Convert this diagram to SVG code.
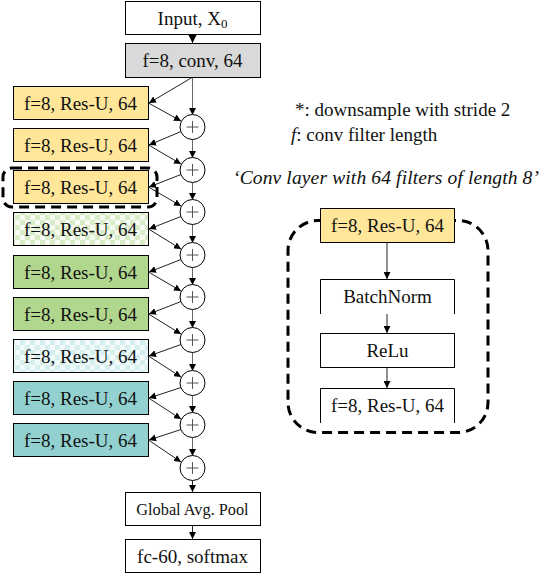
<svg xmlns="http://www.w3.org/2000/svg" width="544" height="574" viewBox="0 0 544 574">
<style>
text{font-family:"Liberation Serif","Times New Roman",serif;fill:#111;}
.t{font-size:19px;text-anchor:middle;}
.box{stroke:#000;stroke-width:1;}
.c{fill:#fff;stroke:#000;stroke-width:1;}
.plus{stroke:#555;stroke-width:1;}
.ln{fill:none;stroke:#222;stroke-width:1;}
.vl{fill:none;stroke:#666;stroke-width:1;}
.dash{fill:none;stroke:#000;stroke-width:3;stroke-dasharray:10 6;}
</style>
<defs>
<marker id="ah" viewBox="0 0 10 10" refX="10" refY="5" markerWidth="7" markerHeight="7" orient="auto" markerUnits="userSpaceOnUse"><path d="M0,0 L10,5 L0,10 z" fill="#000"/></marker>
<marker id="ahb" viewBox="0 0 10 10" refX="10" refY="5" markerWidth="10" markerHeight="10" orient="auto" markerUnits="userSpaceOnUse"><path d="M0,0 L10,5 L0,10 z" fill="#000"/></marker>
<pattern id="chkG" width="10" height="10" patternUnits="userSpaceOnUse"><rect width="10" height="10" fill="#f6faf1"/><rect width="5" height="5" fill="#d9ecc8"/><rect x="5" y="5" width="5" height="5" fill="#d9ecc8"/></pattern>
<pattern id="chkC" width="10" height="10" patternUnits="userSpaceOnUse"><rect width="10" height="10" fill="#f3fafa"/><rect width="5" height="5" fill="#d5eeee"/><rect x="5" y="5" width="5" height="5" fill="#d5eeee"/></pattern>
</defs>

<g id="connectors">
<line class="ln" x1="192.5" y1="34" x2="192.5" y2="43" marker-end="url(#ahb)"/>
<line class="ln" x1="192" y1="77.5" x2="149" y2="103" marker-end="url(#ah)"/>
<line class="vl" x1="192.5" y1="77.5" x2="192.5" y2="115" marker-end="url(#ah)"/>
<line class="ln" x1="148.5" y1="103" x2="181" y2="121" marker-end="url(#ah)"/>
<line class="ln" x1="148.5" y1="145" x2="181" y2="164" marker-end="url(#ah)"/>
<line class="ln" x1="148.5" y1="187" x2="181" y2="206" marker-end="url(#ah)"/>
<line class="ln" x1="148.5" y1="229" x2="181" y2="249" marker-end="url(#ah)"/>
<line class="ln" x1="148.5" y1="272" x2="181" y2="291" marker-end="url(#ah)"/>
<line class="ln" x1="148.5" y1="314" x2="181" y2="334" marker-end="url(#ah)"/>
<line class="ln" x1="148.5" y1="356" x2="181" y2="377" marker-end="url(#ah)"/>
<line class="ln" x1="148.5" y1="398" x2="181" y2="419" marker-end="url(#ah)"/>
<line class="ln" x1="148.5" y1="440" x2="181" y2="462" marker-end="url(#ah)"/>
<line class="ln" x1="181" y1="131.5" x2="149" y2="145" marker-end="url(#ah)"/>
<line class="ln" x1="181" y1="174.5" x2="149" y2="187" marker-end="url(#ah)"/>
<line class="ln" x1="181" y1="216.5" x2="149" y2="229" marker-end="url(#ah)"/>
<line class="ln" x1="181" y1="259.5" x2="149" y2="272" marker-end="url(#ah)"/>
<line class="ln" x1="181" y1="301.5" x2="149" y2="314" marker-end="url(#ah)"/>
<line class="ln" x1="181" y1="344.5" x2="149" y2="356" marker-end="url(#ah)"/>
<line class="ln" x1="181" y1="387.5" x2="149" y2="398" marker-end="url(#ah)"/>
<line class="ln" x1="181" y1="429.5" x2="149" y2="440" marker-end="url(#ah)"/>
<line class="vl" x1="192.5" y1="139" x2="192.5" y2="158" marker-end="url(#ah)"/>
<line class="vl" x1="192.5" y1="182" x2="192.5" y2="200" marker-end="url(#ah)"/>
<line class="vl" x1="192.5" y1="224" x2="192.5" y2="243" marker-end="url(#ah)"/>
<line class="vl" x1="192.5" y1="267" x2="192.5" y2="285" marker-end="url(#ah)"/>
<line class="vl" x1="192.5" y1="309" x2="192.5" y2="328" marker-end="url(#ah)"/>
<line class="vl" x1="192.5" y1="352" x2="192.5" y2="371" marker-end="url(#ah)"/>
<line class="vl" x1="192.5" y1="395" x2="192.5" y2="413" marker-end="url(#ah)"/>
<line class="vl" x1="192.5" y1="437" x2="192.5" y2="456" marker-end="url(#ah)"/>
<line class="ln" x1="192.5" y1="480" x2="192.5" y2="492" marker-end="url(#ah)"/>
<line class="ln" x1="192.5" y1="526" x2="192.5" y2="539" marker-end="url(#ah)"/>
<line class="ln" x1="387" y1="242" x2="387" y2="279" marker-end="url(#ah)"/>
<line class="ln" x1="387" y1="314" x2="387" y2="333" marker-end="url(#ah)"/>
<line class="ln" x1="387" y1="367" x2="387" y2="388" marker-end="url(#ah)"/>
</g>

<g id="input"><rect class="box" x="125.5" y="1.5" width="135" height="33" fill="#fff"/><text class="t" x="192.5" y="25">Input, X<tspan font-size="13" dy="3">0</tspan></text></g>
<g id="conv"><rect class="box" x="125.5" y="43.5" width="135" height="34" fill="#d9d9d9"/><text class="t" x="192.5" y="67">f=8, conv, 64</text></g>

<g id="res1"><rect class="box" x="13.5" y="86.5" width="135" height="33" fill="#ffe699"/><text class="t" x="80.5" y="110">f=8, Res-U, 64</text></g>
<g id="res2"><rect class="box" x="13.5" y="128.5" width="135" height="33" fill="#ffe699"/><text class="t" x="80.5" y="152">f=8, Res-U, 64</text></g>
<g id="res3"><rect class="box" x="13.5" y="170.5" width="135" height="33" fill="#ffe699"/><text class="t" x="80.5" y="194">f=8, Res-U, 64</text></g>
<g id="res4"><rect class="box" x="13.5" y="212.5" width="135" height="33" fill="url(#chkG)"/><text class="t" x="80.5" y="236">f=8, Res-U, 64</text></g>
<g id="res5"><rect class="box" x="13.5" y="255.5" width="135" height="33" fill="#b1d68d"/><text class="t" x="80.5" y="279">f=8, Res-U, 64</text></g>
<g id="res6"><rect class="box" x="13.5" y="297.5" width="135" height="33" fill="#b1d68d"/><text class="t" x="80.5" y="321">f=8, Res-U, 64</text></g>
<g id="res7"><rect class="box" x="13.5" y="339.5" width="135" height="33" fill="url(#chkC)"/><text class="t" x="80.5" y="363">f=8, Res-U, 64</text></g>
<g id="res8"><rect class="box" x="13.5" y="381.5" width="135" height="33" fill="#93d1d1"/><text class="t" x="80.5" y="405">f=8, Res-U, 64</text></g>
<g id="res9"><rect class="box" x="13.5" y="423.5" width="135" height="33" fill="#93d1d1"/><text class="t" x="80.5" y="447">f=8, Res-U, 64</text></g>

<g id="highlight"><rect class="dash" x="3" y="168" width="154" height="39" rx="9" stroke-width="2.5"/></g>

<g id="add1"><circle class="c" cx="192.5" cy="127" r="12.5"/><path class="plus" d="M186.5,127H198.5M192.5,121V133"/></g>
<g id="add2"><circle class="c" cx="192.5" cy="170" r="12.5"/><path class="plus" d="M186.5,170H198.5M192.5,164V176"/></g>
<g id="add3"><circle class="c" cx="192.5" cy="212" r="12.5"/><path class="plus" d="M186.5,212H198.5M192.5,206V218"/></g>
<g id="add4"><circle class="c" cx="192.5" cy="255" r="12.5"/><path class="plus" d="M186.5,255H198.5M192.5,249V261"/></g>
<g id="add5"><circle class="c" cx="192.5" cy="297" r="12.5"/><path class="plus" d="M186.5,297H198.5M192.5,291V303"/></g>
<g id="add6"><circle class="c" cx="192.5" cy="340" r="12.5"/><path class="plus" d="M186.5,340H198.5M192.5,334V346"/></g>
<g id="add7"><circle class="c" cx="192.5" cy="383" r="12.5"/><path class="plus" d="M186.5,383H198.5M192.5,377V389"/></g>
<g id="add8"><circle class="c" cx="192.5" cy="425" r="12.5"/><path class="plus" d="M186.5,425H198.5M192.5,419V431"/></g>
<g id="add9"><circle class="c" cx="192.5" cy="468" r="12.5"/><path class="plus" d="M186.5,468H198.5M192.5,462V474"/></g>

<g id="gap"><rect class="box" x="125.5" y="492.5" width="135" height="33" fill="#fff"/><text x="192.5" y="515" font-size="16.3" text-anchor="middle">Global Avg. Pool</text></g>
<g id="fc"><rect class="box" x="125.5" y="539.5" width="135" height="33" fill="#fff"/><text class="t" x="192.5" y="563">fc-60, softmax</text></g>

<g id="legend">
<text x="295" y="116" font-size="19">*: downsample with stride 2</text>
<text x="291" y="141" font-size="19"><tspan font-style="italic">f</tspan>: conv filter length</text>
<text x="233" y="184" font-size="19.5" font-style="italic" textLength="306" lengthAdjust="spacing">‘Conv layer with 64 filters of length 8’</text>
</g>

<g id="detail-frame"><rect class="dash" x="288" y="220.5" width="200" height="212" rx="30"/></g>
<g id="detail-res"><rect class="box" x="320.5" y="208.5" width="134" height="34" fill="#ffe699"/><text class="t" x="387.5" y="232">f=8, Res-U, 64</text></g>
<g id="detail-bn"><path class="box" fill="#fff" d="M320.5,314V279.5H454.5V314"/><text class="t" x="387.5" y="303">BatchNorm</text></g>
<g id="detail-relu"><rect class="box" x="320.5" y="333.5" width="134" height="34" fill="#fff"/><text class="t" x="387.5" y="357">ReLu</text></g>
<g id="detail-res2"><path class="box" fill="#fff" d="M320.5,423V388.5H454.5V423"/><text class="t" x="387.5" y="412">f=8, Res-U, 64</text></g>
</svg>
